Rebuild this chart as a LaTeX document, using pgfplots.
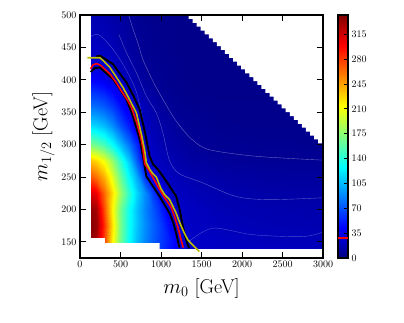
\documentclass[border=0pt]{standalone}
\usepackage{pgfplots}
\usepackage{pgfplotstable}
\pgfplotsset{compat=1.18}

\definecolor{cyel}{rgb}{0.75,0.75,0}

% field values on an (m0, m12) grid, 20 columns x 15 rows
\pgfplotstableread[row sep=\\]{
x y c\\
130 140 330\\ 200 140 325\\ 300 140 275\\ 400 140 215\\ 500 140 165\\ 600 140 128\\ 700 140 104\\ 800 140 86\\ 900 140 72\\ 1000 140 61\\ 1100 140 50\\ 1200 140 40\\ 1300 140 29\\ 1400 140 25\\ 1500 140 24\\ 1700 140 23\\ 2000 140 22\\ 2300 140 21\\ 2600 140 20.5\\ 3000 140 20\\
130 155 335\\ 200 155 330\\ 300 155 280\\ 400 155 220\\ 500 155 168\\ 600 155 130\\ 700 155 106\\ 800 155 88\\ 900 155 74\\ 1000 155 62\\ 1100 155 51\\ 1200 155 40\\ 1300 155 27\\ 1400 155 24\\ 1500 155 23\\ 1700 155 22\\ 2000 155 20.5\\ 2300 155 19.5\\ 2600 155 19\\ 3000 155 18.5\\
130 175 340\\ 200 175 335\\ 300 175 285\\ 400 175 225\\ 500 175 170\\ 600 175 132\\ 700 175 108\\ 800 175 90\\ 900 175 75\\ 1000 175 62\\ 1100 175 45\\ 1200 175 30\\ 1300 175 24\\ 1400 175 22.5\\ 1500 175 21.5\\ 1700 175 20\\ 2000 175 18.5\\ 2300 175 17.5\\ 2600 175 17\\ 3000 175 16.5\\
130 200 335\\ 200 200 330\\ 300 200 275\\ 400 200 218\\ 500 200 168\\ 600 200 133\\ 700 200 107\\ 800 200 87\\ 900 200 71\\ 1000 200 54\\ 1100 200 35\\ 1200 200 24\\ 1300 200 23\\ 1400 200 21.5\\ 1500 200 20\\ 1700 200 18\\ 2000 200 16.5\\ 2300 200 15.5\\ 2600 200 15\\ 3000 200 14.5\\
130 225 310\\ 200 225 305\\ 300 225 265\\ 400 225 225\\ 500 225 182\\ 600 225 143\\ 700 225 113\\ 800 225 89\\ 900 225 62\\ 1000 225 36\\ 1100 225 24\\ 1200 225 22\\ 1300 225 20\\ 1400 225 19\\ 1500 225 17.5\\ 1700 225 16\\ 2000 225 14.5\\ 2300 225 13.5\\ 2600 225 13\\ 3000 225 12.5\\
130 250 270\\ 200 250 262\\ 300 250 240\\ 400 250 205\\ 500 250 165\\ 600 250 128\\ 700 250 98\\ 800 250 60\\ 900 250 31\\ 1000 250 24\\ 1100 250 21\\ 1200 250 19\\ 1300 250 17\\ 1400 250 15.5\\ 1500 250 14.5\\ 1700 250 13\\ 2000 250 11.5\\ 2300 250 10.5\\ 2600 250 10\\ 3000 250 10\\
130 275 235\\ 200 275 228\\ 300 275 210\\ 400 275 180\\ 500 275 145\\ 600 275 110\\ 700 275 72\\ 800 275 33\\ 900 275 24\\ 1000 275 20\\ 1100 275 17\\ 1200 275 15\\ 1300 275 13\\ 1400 275 11.5\\ 1500 275 10.5\\ 1700 275 9\\ 2000 275 8\\ 2300 275 7.5\\ 2600 275 7\\ 3000 275 7\\
130 300 170\\ 200 300 165\\ 300 300 152\\ 400 300 132\\ 500 300 108\\ 600 300 82\\ 700 300 55\\ 800 300 27\\ 900 300 21\\ 1000 300 17\\ 1100 300 14\\ 1200 300 12\\ 1300 300 10\\ 1400 300 8.5\\ 1500 300 7.5\\ 1700 300 6.5\\ 2000 300 6\\ 2300 300 5.5\\ 2600 300 5.5\\ 3000 300 5\\
130 330 115\\ 200 330 112\\ 300 330 104\\ 400 330 90\\ 500 330 70\\ 600 330 50\\ 700 330 31\\ 800 330 22\\ 900 330 17\\ 1000 330 13\\ 1100 330 11\\ 1200 330 9\\ 1300 330 7\\ 1400 330 6.5\\ 1500 330 6\\ 1700 330 5\\ 2000 330 4.5\\ 2300 330 4.5\\ 2600 330 4.5\\ 3000 330 4.5\\
130 360 80\\ 200 360 78\\ 300 360 72\\ 400 360 62\\ 500 360 48\\ 600 360 34\\ 700 360 24\\ 800 360 18\\ 900 360 14\\ 1000 360 10\\ 1100 360 7.5\\ 1200 360 6\\ 1300 360 5.5\\ 1400 360 5\\ 1500 360 4.5\\ 1700 360 4\\ 2000 360 4\\ 2300 360 4\\ 2600 360 4\\ 3000 360 4\\
130 400 42\\ 200 400 41\\ 300 400 37\\ 400 400 30\\ 500 400 24\\ 600 400 18\\ 700 400 13\\ 800 400 9.5\\ 900 400 7\\ 1000 400 6\\ 1100 400 5\\ 1200 400 4.5\\ 1300 400 4\\ 1400 400 3.5\\ 1500 400 3.5\\ 1700 400 3.5\\ 2000 400 3.5\\ 2300 400 3.5\\ 2600 400 3.5\\ 3000 400 3.5\\
130 420 30\\ 200 420 31\\ 300 420 29\\ 400 420 25\\ 500 420 20\\ 600 420 15\\ 700 420 11\\ 800 420 8\\ 900 420 6.5\\ 1000 420 5.5\\ 1100 420 5\\ 1200 420 4.5\\ 1300 420 4\\ 1400 420 3.5\\ 1500 420 3.5\\ 1700 420 3.5\\ 2000 420 3.5\\ 2300 420 3.5\\ 2600 420 3.5\\ 3000 420 3.5\\
130 440 23\\ 200 440 24\\ 300 440 22\\ 400 440 20\\ 500 440 16\\ 600 440 12\\ 700 440 9\\ 800 440 6.5\\ 900 440 5.5\\ 1000 440 5\\ 1100 440 4.5\\ 1200 440 4\\ 1300 440 3.5\\ 1400 440 3.5\\ 1500 440 3.5\\ 1700 440 3.5\\ 2000 440 3.5\\ 2300 440 3.5\\ 2600 440 3.5\\ 3000 440 3.5\\
130 470 19\\ 200 470 19\\ 300 470 18\\ 400 470 16\\ 500 470 13\\ 600 470 10\\ 700 470 7.5\\ 800 470 6\\ 900 470 5\\ 1000 470 4.5\\ 1100 470 4\\ 1200 470 4\\ 1300 470 3.5\\ 1400 470 3.5\\ 1500 470 3.5\\ 1700 470 3.5\\ 2000 470 3.5\\ 2300 470 3.5\\ 2600 470 3.5\\ 3000 470 3.5\\
130 500 17\\ 200 500 17\\ 300 500 16\\ 400 500 14\\ 500 500 11\\ 600 500 8\\ 700 500 6\\ 800 500 5\\ 900 500 4.5\\ 1000 500 4\\ 1100 500 4\\ 1200 500 3.5\\ 1300 500 3.5\\ 1400 500 3.5\\ 1500 500 3.5\\ 1700 500 3.5\\ 2000 500 3.5\\ 2300 500 3.5\\ 2600 500 3.5\\ 3000 500 3.5\\
}\fieldtable

\pgfplotsset{
    frame axis/.style={
        at={(0pt,0pt)}, anchor=south west,
        scale only axis, width=243pt, height=243pt,
        xmin=0, xmax=3000, ymin=125, ymax=500,
        xtick={0,500,...,3000}, ytick={150,200,...,500},
        scaled ticks=false,
        xticklabel style={/pgf/number format/1000 sep={}},
        tick pos=both, tick align=inside,
        major tick length=6pt,
        every tick/.append style={black, line width=0.8pt},
        axis line style={black, line width=1.3pt},
    },
}

\begin{document}
\begin{tikzpicture}
\useasboundingbox (-80pt,-65pt) rectangle (324pt,258pt);
\begin{axis}[
    frame axis,
    xlabel={$m_0$ [GeV]}, ylabel={$m_{1/2}$ [GeV]},
    label style={font=\fontsize{20}{24}\selectfont},
    xlabel style={yshift=-4pt},
    colormap/jet,
    point meta min=0, point meta max=342,
    colorbar,
    colorbar shift/.style={xshift=15pt},
    colorbar style={
        at={(parent axis.north east)}, anchor=north west,
        width=10pt,
        ytick={0,35,...,315},
        ytick pos=right, yticklabel pos=right,
        tick align=inside,
        major tick length=4pt,
        every tick/.append style={black, line width=0.8pt},
        axis line style={black, line width=1.3pt},
        extra y ticks={28},
        extra y tick labels={},
        extra y tick style={grid=major, major grid style={red, line width=1.5pt}, major tick length=0pt},
    },
]
\addplot[surf, shader=interp, mesh/rows=15, mesh/cols=20, point meta=\thisrow{c}]
    table[x=x, y=y] {\fieldtable};

% faint contour boundaries
\addplot[white, opacity=0.4, line width=0.4pt, smooth] coordinates {
    (600,500) (655,478) (716,456) (778,431) (900,398) (1000,375) (1146,344)
    (1270,323) (1400,306) (1600,292) (2170,282) (3000,276)};
\addplot[white, opacity=0.35, line width=0.4pt, smooth] coordinates {
    (480,470) (573,442) (700,410) (819,375) (942,349) (1024,318) (1106,275)
    (1229,255) (1516,241) (1925,220) (2334,215) (3000,218)};
\addplot[white, opacity=0.3, line width=0.4pt, smooth] coordinates {
    (135,467) (225,470) (348,456) (470,436) (593,410) (700,380) (780,335)};
\addplot[white, opacity=0.3, line width=0.4pt, smooth] coordinates {
    (1340,150) (1638,171) (2129,161) (2743,158) (3000,165)};

% missing regions
\addplot[fill=white, draw=none] coordinates {
    (125,139) (125,155.7) (307,155.7) (307,148) (983,148) (983,139)};
\addplot[fill=white, draw=none] coordinates {
    (1290,505) (1290,500) (1340,500) (1340,494) (1390,494) (1390,488)
    (1440,488) (1440,482) (1490,482) (1490,476) (1540,476) (1540,470)
    (1590,470) (1590,464) (1640,464) (1640,458) (1690,458) (1690,452)
    (1740,452) (1740,446) (1790,446) (1790,440) (1840,440) (1840,434)
    (1890,434) (1890,428) (1940,428) (1940,422) (1990,422) (1990,416)
    (2040,416) (2040,410) (2090,410) (2090,404) (2140,404) (2140,398)
    (2190,398) (2190,392) (2240,392) (2240,386) (2290,386) (2290,380)
    (2340,380) (2340,374) (2390,374) (2390,368) (2440,368) (2440,362)
    (2490,362) (2490,356) (2540,356) (2540,350) (2590,350) (2590,344)
    (2640,344) (2640,338) (2690,338) (2690,332) (2740,332) (2740,326)
    (2790,326) (2790,320) (2840,320) (2840,314) (2890,314) (2890,308)
    (2940,308) (2940,302) (2990,302) (2990,296) (3010,296) (3010,505)};

% exclusion contours
\addplot[black, line width=1.9pt] coordinates {
    (200,436) (246,437) (300,433) (409,424) (490,410) (573,396) (660,375)
    (737,354) (800,320) (860,282) (900,270) (960,262) (1024,251) (1100,237)
    (1188,220) (1230,200) (1270,174) (1300,158) (1330,145) (1350,140)};
\addplot[black, line width=1.9pt] coordinates {
    (131,412) (180,418) (246,419) (300,413) (409,401) (490,386) (573,370)
    (650,345) (737,308) (780,280) (819,251) (900,236) (983,220) (1050,206)
    (1106,194) (1150,180) (1188,163) (1210,150) (1229,141)};
\addplot[red, line width=1.6pt] coordinates {
    (131,417) (160,423) (205,425) (260,422) (300,417) (369,409) (440,397)
    (515,382) (585,369) (640,356) (703,333) (760,306) (782,288) (800,270)
    (852,260) (924,244) (982,231) (1046,218) (1090,210) (1126,203)
    (1170,188) (1210,172) (1242,156) (1275,141)};
\addplot[cyel, line width=1.6pt] coordinates {
    (90,434) (150,434) (246,434) (300,428) (369,419) (450,404) (532,388)
    (610,370) (696,349) (760,315) (800,290) (819,272) (860,262) (900,255)
    (942,250) (1000,232) (1050,222) (1106,215) (1150,204) (1188,194)
    (1220,183) (1250,174) (1290,163) (1331,153) (1400,144) (1474,135)};
\end{axis}
% frame and ticks drawn again over the white regions
\begin{axis}[frame axis, xticklabels={}, yticklabels={}]
\end{axis}
\end{tikzpicture}
\end{document}
